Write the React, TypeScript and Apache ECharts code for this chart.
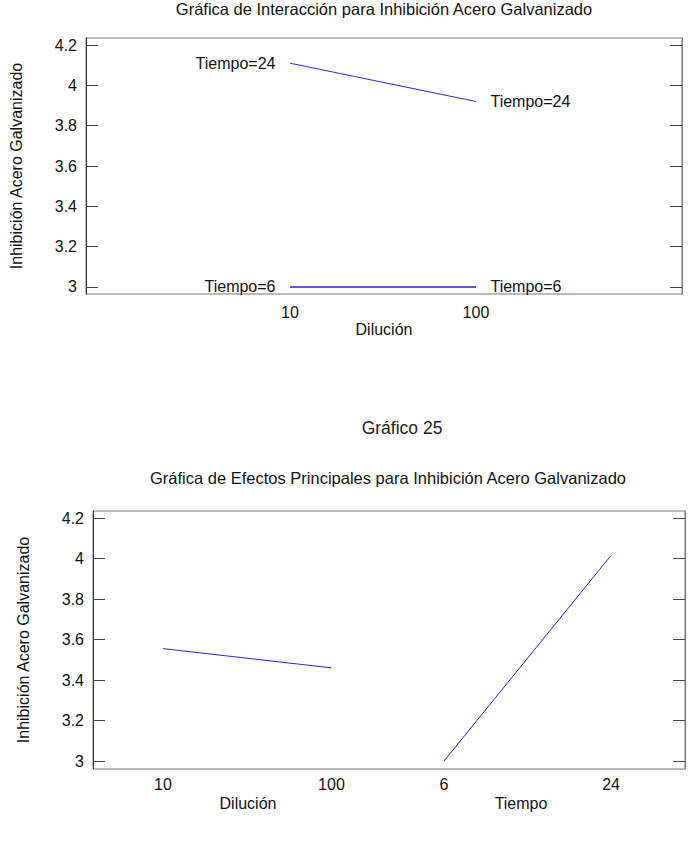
import React, { useEffect, useRef } from "react";
import * as echarts from "echarts";

const dilutionLevels = ["10", "100"];
const timeLevels = ["6", "24"];
const yTicks = [3, 3.2, 3.4, 3.6, 3.8, 4, 4.2];

// Interaction plot values (Dilución levels on x)
const tiempo24 = [4.11, 3.92];
const tiempo6 = [3.0, 3.0];
const tiempo24Label = "Tiempo=24";
const tiempo6Label = "Tiempo=6";

// Main effects values
const dilucionEffect = [3.555, 3.46];
const tiempoEffect = [3.0, 4.015];

const titleTop = "Gráfica de Interacción para Inhibición Acero Galvanizado";
const titleBottom = "Gráfica de Efectos Principales para Inhibición Acero Galvanizado";
const captionMid = "Gráfico 25";
const yName = "Inhibición Acero Galvanizado";

const FONT = "Liberation Sans, Arial, sans-serif";
const LINE = "#2424e0";

export default function App() {
  const ref = useRef<HTMLDivElement>(null);
  useEffect(() => {
    if (!ref.current) return;
    const chart = echarts.init(ref.current, null, { renderer: "svg" });
    const txt = { fontFamily: FONT, fontSize: 16, color: "#111" };
    const levelIdx = (arr: number[]) => arr.map((v, i) => [i, v]);
    const endLabels = (arr: number[], name: string) =>
      arr.map((v, i) => ({
        value: [i, v],
        label: {
          show: true,
          position: i === 0 ? "left" : "right",
          distance: 14,
          formatter: name,
          ...txt,
        },
      }));
    const yAxisBase = (gridIndex: number, min: number, max: number, right: boolean) => ({
      type: "value",
      gridIndex,
      min,
      max,
      position: right ? "right" : "left",
      axisLine: { show: true, onZero: false, lineStyle: { color: right ? "#777" : "#333", width: 1 } },
      axisTick: {
        show: true,
        inside: true,
        length: 12,
        customValues: yTicks,
        lineStyle: { color: "#444", width: 1 },
      },
      axisLabel: right
        ? { show: false }
        : { show: true, customValues: yTicks, margin: 9, ...txt },
      splitLine: { show: false },
      name: right ? "" : yName,
      nameLocation: "middle",
      nameGap: 62,
      nameTextStyle: { ...txt },
    });
    const xAxisBase = (gridIndex: number, min: number, max: number, labels: string[], name: string, margin: number) => ({
      type: "value",
      gridIndex,
      min,
      max,
      position: "bottom",
      axisLine: { show: false, onZero: false },
      axisTick: { show: false },
      splitLine: { show: false },
      axisLabel: {
        show: true,
        customValues: labels.map((_, i) => i),
        formatter: (v: number) => labels[Math.round(v)] ?? "",
        margin,
        ...txt,
      },
      name,
      nameLocation: "middle",
      nameGap: 27,
      nameTextStyle: { ...txt },
    });
    const lineSeries = (xi: number, yi: number, data: any[], width: number) => ({
      type: "line",
      xAxisIndex: xi,
      yAxisIndex: yi,
      data,
      symbol: "circle",
      symbolSize: 1,
      showSymbol: true,
      itemStyle: { color: "rgba(0,0,0,0)" },
      lineStyle: { color: LINE, width },
    });
    chart.setOption({
      animation: false,
      backgroundColor: "#fff",
      grid: [
        { left: 86, top: 38, right: 8, bottom: 564, show: true, borderColor: "#777", borderWidth: 1 },
        { left: 93, top: 511, right: 5, bottom: 89, show: true, borderColor: "#777", borderWidth: 1 },
      ],
      xAxis: [
        xAxisBase(0, -1.097, 2.108, dilutionLevels, "Dilución", 10),
        xAxisBase(1, -0.415, 3.098, dilutionLevels, "", 7),
        xAxisBase(1, -2.102, 1.443, timeLevels, "", 7),
      ],
      yAxis: [
        yAxisBase(0, 2.965, 4.235, false),
        yAxisBase(0, 2.965, 4.235, true),
        yAxisBase(1, 2.9605, 4.2346, false),
        yAxisBase(1, 2.9605, 4.2346, true),
      ],
      series: [
        lineSeries(0, 0, endLabels(tiempo24, tiempo24Label), 1),
        lineSeries(0, 0, endLabels(tiempo6, tiempo6Label), 1.4),
        lineSeries(1, 2, levelIdx(dilucionEffect), 1),
        lineSeries(2, 2, levelIdx(tiempoEffect), 1),
      ],
      graphic: [
        {
          type: "text",
          x: 384,
          y: 0,
          style: { text: titleTop, font: `16.5px ${FONT}`, fill: "#111", textAlign: "center", textVerticalAlign: "top" },
        },
        {
          type: "text",
          x: 402,
          y: 428,
          style: { text: captionMid, font: `17.5px ${FONT}`, fill: "#222", textAlign: "center", textVerticalAlign: "middle" },
        },
        {
          type: "text",
          x: 388,
          y: 478,
          style: { text: titleBottom, font: `16.5px ${FONT}`, fill: "#111", textAlign: "center", textVerticalAlign: "middle" },
        },
        {
          type: "text",
          x: 248,
          y: 803,
          style: { text: "Dilución", font: `16px ${FONT}`, fill: "#111", textAlign: "center", textVerticalAlign: "middle" },
        },
        {
          type: "text",
          x: 521,
          y: 803,
          style: { text: "Tiempo", font: `16px ${FONT}`, fill: "#111", textAlign: "center", textVerticalAlign: "middle" },
        },
      ],
    });
    return () => chart.dispose();
  }, []);
  return (
    <div
      ref={ref}
      style={{ position: "fixed", left: 0, top: 0, width: 690, height: 858, background: "#fff" }}
    />
  );
}
